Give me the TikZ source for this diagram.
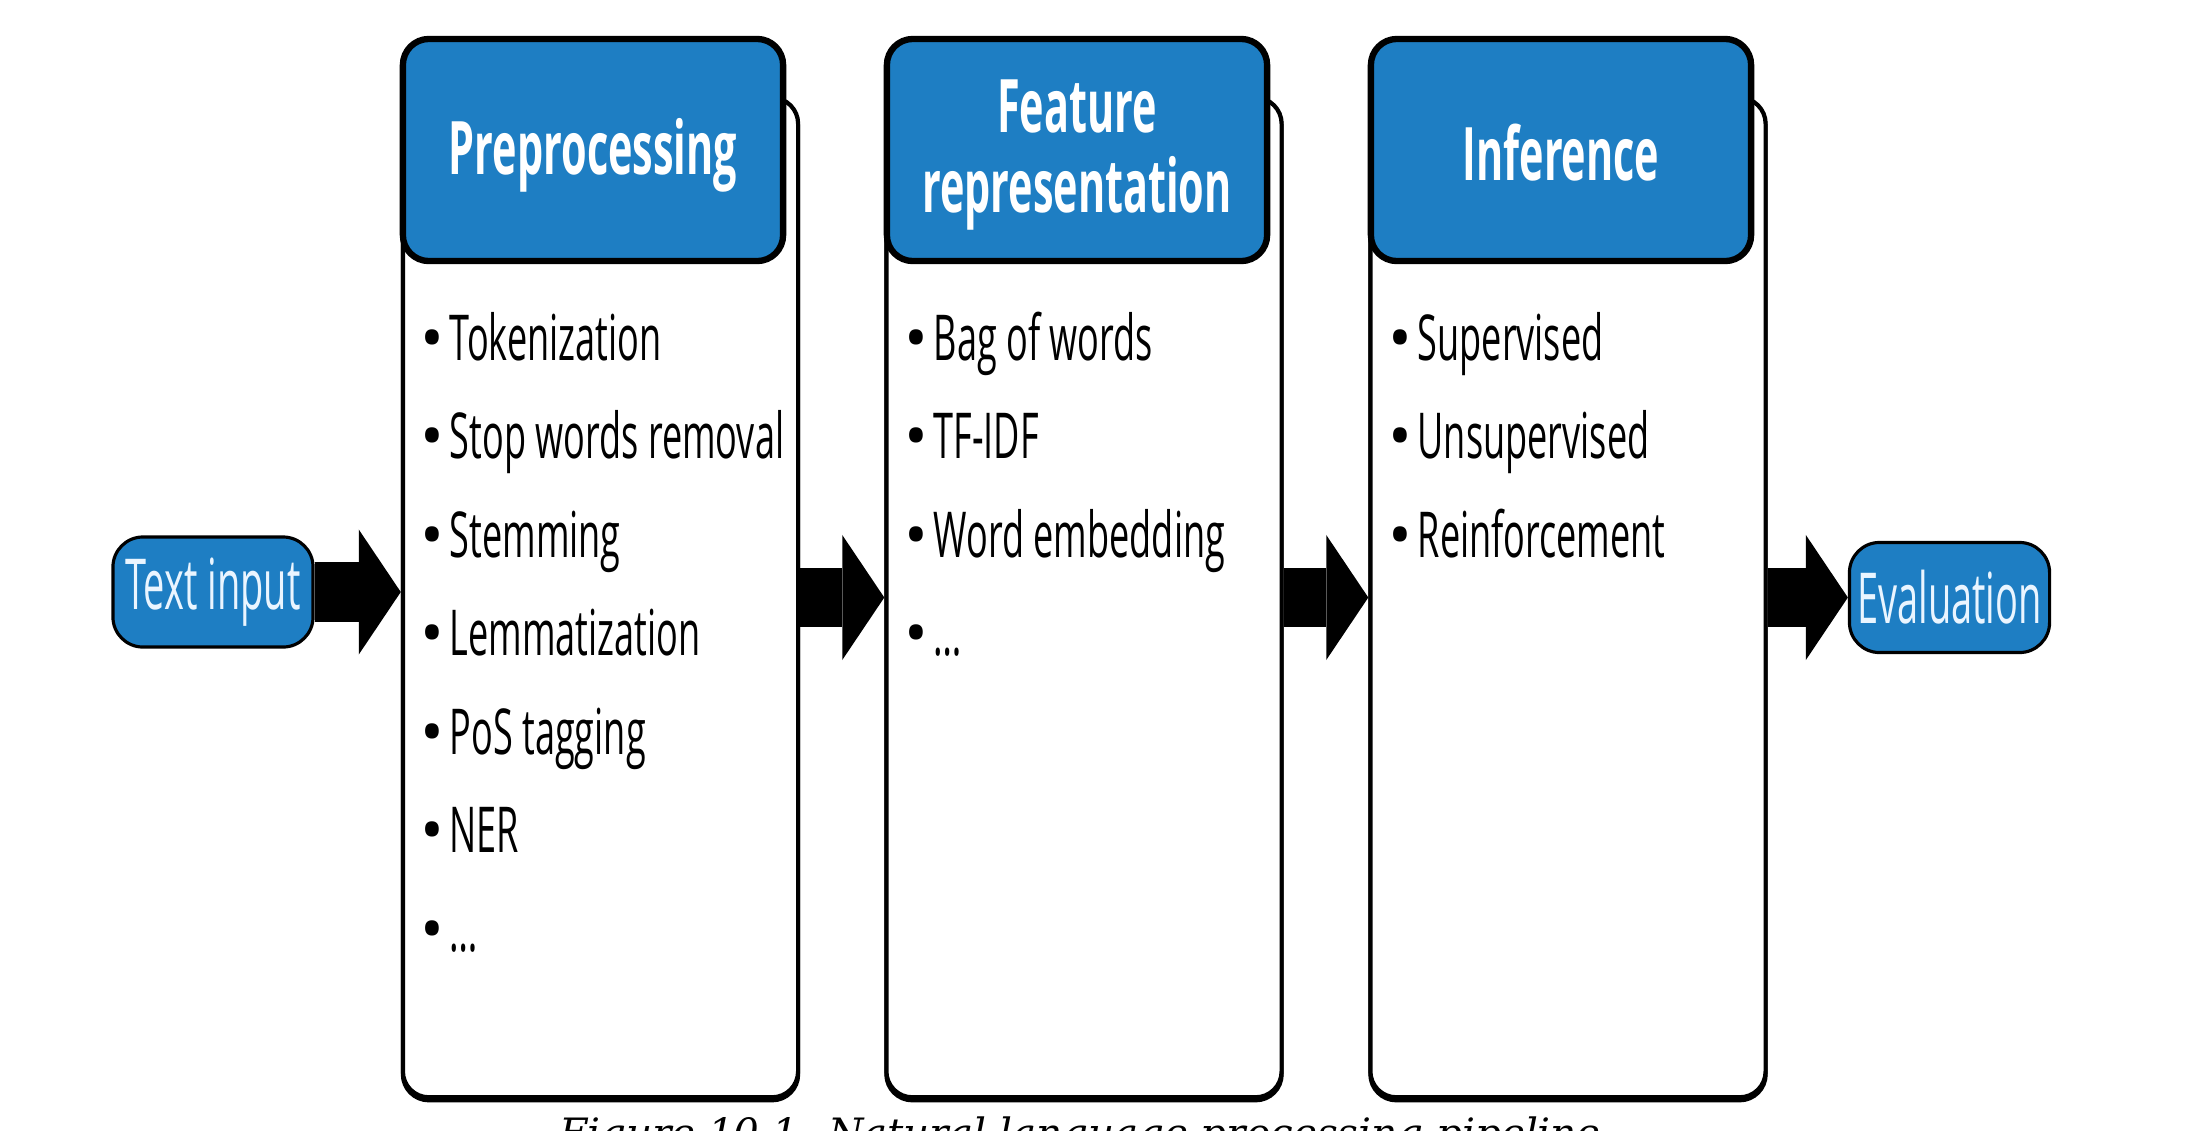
\documentclass[tikz,border=0pt]{standalone}
\usepackage{fontspec}
\setmainfont{Open Sans}
\newfontfamily\bodyf[FakeStretch=0.57]{Open Sans}
\newfontfamily\headf[FakeStretch=0.56]{Open Sans}
\newfontfamily\pillf[FakeStretch=0.54]{Open Sans}
\newfontfamily\bulf{Open Sans}
\newfontfamily\capf{DejaVu Serif}
\usetikzlibrary{arrows.meta,calc}
\definecolor{nlpblue}{HTML}{1E7EC3}
\definecolor{pilltext}{HTML}{EAF5FF}
\begin{document}
\begin{tikzpicture}[x=0.01cm,y=-0.01cm,
  panel/.style={draw=black, line width=1.2pt, fill=white, rounded corners=0.26cm,
    minimum width=3.95cm, minimum height=9.99cm, inner sep=0pt,
    preaction={draw=black, line width=1.2pt, transform canvas={yshift=-0.03cm}}},
  head/.style={draw=black, line width=1.8pt, fill=nlpblue, rounded corners=0.26cm,
    minimum width=3.8cm, minimum height=2.22cm, inner sep=0pt},
  headtext/.style={inner sep=0pt, text=white, align=center,
    font=\headf\bfseries\fontsize{21}{23}\selectfont},
  pill/.style={draw=black, line width=0.9pt, fill=nlpblue, rounded corners=0.3cm,
    minimum width=2.0cm, minimum height=1.1cm, inner sep=0pt, text=pilltext,
    font=\pillf\fontsize{20}{22}\selectfont},
  item/.style={anchor=base west, inner sep=0pt, font=\bodyf\fontsize{18}{20}\selectfont},
  blockarrow/.style={line width=0.59cm, -{Triangle[length=0.42cm, width=1.25cm, line width=0pt]}},
]
\useasboundingbox (0,0) rectangle (2200,1130);
\clip (0,0) rectangle (2200,1130);
\fill[white] (0,0) rectangle (2200,1130);

% panels
\node[panel] (bp) at (600.5,597.5) {};
\node[head] (hp) at (593,150) {};
\node[headtext] (hpt) at (593,155) {Preprocessing};
\node[panel] (bf) at (1084,597.5) {};
\node[head] (hf) at (1077,150) {};
\node[headtext] (hft) at (1077,155) {Feature\\representation};
\node[panel] (bi) at (1568,597.5) {};
\node[head] (hi) at (1561,150) {};
\node[headtext] (hit) at (1561,153) {Inference};

% pills
\node[pill] (tin) at (213,592) {\raisebox{-2pt}{Text input}};
\node[pill] (ev) at (1949.5,597.5) {\raisebox{-1pt}{Evaluation}};

% arrows
\draw[blockarrow] (tin.east) -- (tin.east -| bp.west);
\draw[blockarrow] (bp.east) -- (bf.west);
\draw[blockarrow] (bf.east) -- (bi.west);
\draw[blockarrow] (bi.east) -- (ev.west);

% items
\newcommand\bul{\makebox[0pt][r]{\bulf •\hspace{1.5pt}}}
\foreach \t [count=\i from 0] in {Tokenization, Stop words removal, Stemming, Lemmatization, PoS tagging, NER, …}
  \node[item] (p\i) at (449, 360+98.5*\i) {\bul\t};
\foreach \t [count=\i from 0] in {Bag of words, TF-IDF, Word embedding, …}
  \node[item] (f\i) at (933, 360+98.5*\i) {\bul\t};
\foreach \t [count=\i from 0] in {Supervised, Unsupervised, Reinforcement}
  \node[item] (n\i) at (1417, 360+98.5*\i) {\bul\t};

% caption (cut off at the bottom, as in the reference)
\node[font=\capf\itshape\fontsize{11.5}{14}\selectfont, anchor=north, inner sep=0pt] (cap) at (1080,1116)
  {Figure 10.1. Natural language processing pipeline};
\end{tikzpicture}
\end{document}
